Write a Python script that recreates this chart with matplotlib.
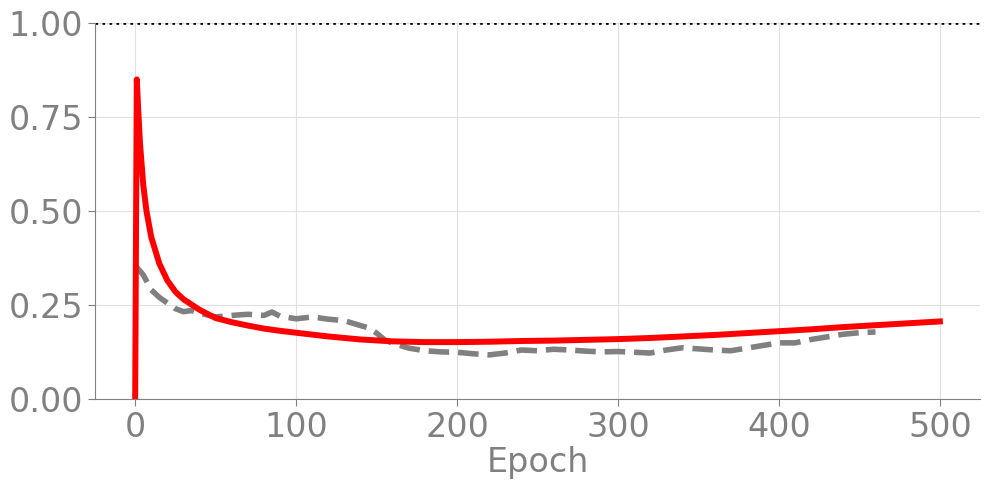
import matplotlib
matplotlib.use("Agg")
from matplotlib import pyplot as plt

# Red curve (full training run)
red_epochs = [0, 1, 2, 3, 5, 7, 10, 15, 20, 25, 30, 40, 50, 60, 70, 80, 90, 100,
              120, 140, 160, 180, 200, 220, 240, 260, 280, 300, 320, 340, 360,
              380, 400, 420, 440, 460, 480, 500]
red_values = [0.0, 0.85, 0.76, 0.68, 0.57, 0.50, 0.43, 0.36, 0.315, 0.285, 0.265,
              0.237, 0.215, 0.204, 0.195, 0.187, 0.181, 0.176, 0.166, 0.158,
              0.153, 0.151, 0.151, 0.152, 0.154, 0.155, 0.157, 0.159, 0.162,
              0.166, 0.170, 0.175, 0.180, 0.185, 0.191, 0.196, 0.201, 0.206]

# Gray dashed curve
gray_epochs = [0, 5, 10, 15, 20, 25, 30, 35, 40, 50, 60, 70, 80, 85, 90, 100,
               110, 120, 125, 130, 140, 145, 150, 155, 160, 170, 180, 190, 200,
               210, 220, 230, 240, 250, 260, 270, 280, 290, 300, 310, 320, 330,
               340, 350, 360, 370, 380, 390, 400, 410, 420, 430, 440, 450, 460]
gray_values = [0.355, 0.33, 0.29, 0.27, 0.255, 0.24, 0.232, 0.235, 0.228, 0.218,
               0.222, 0.225, 0.222, 0.231, 0.22, 0.213, 0.218, 0.212, 0.21, 0.208,
               0.195, 0.189, 0.175, 0.157, 0.148, 0.135, 0.128, 0.125, 0.124,
               0.12, 0.117, 0.122, 0.13, 0.128, 0.132, 0.13, 0.127, 0.125, 0.126,
               0.124, 0.122, 0.13, 0.136, 0.133, 0.13, 0.128, 0.135, 0.142, 0.149,
               0.149, 0.158, 0.165, 0.172, 0.176, 0.178]

yticks = [0.0, 0.25, 0.5, 0.75, 1.0]
xticks = [0, 100, 200, 300, 400, 500]

fig = plt.figure(figsize=(9.89, 4.90), dpi=100)
ax = fig.add_axes([0.096, 0.186, 0.895, 0.767])

ax.plot(gray_epochs, gray_values, color="gray", linestyle="--", linewidth=4)
ax.plot(red_epochs, red_values, color="red", linewidth=4.3)
ax.axhline(1.0, color="black", linestyle=":", linewidth=1.9)

ax.set_xlim(-25, 525)
ax.set_ylim(0, 1.0)
ax.set_xticks(xticks)
ax.set_yticks(yticks)
ax.set_yticklabels(["%.2f" % t for t in yticks])
ax.grid(True, color="#e0e0e0", linewidth=0.8)
ax.set_axisbelow(True)

for side in ["top", "right"]:
    ax.spines[side].set_visible(False)
for side in ["left", "bottom"]:
    ax.spines[side].set_color("gray")

ax.tick_params(axis="both", colors="gray", labelsize=24, length=5)
ax.set_xlabel("Epoch", fontsize=24, color="gray", labelpad=2)

fig.savefig("out.png", dpi=100)
